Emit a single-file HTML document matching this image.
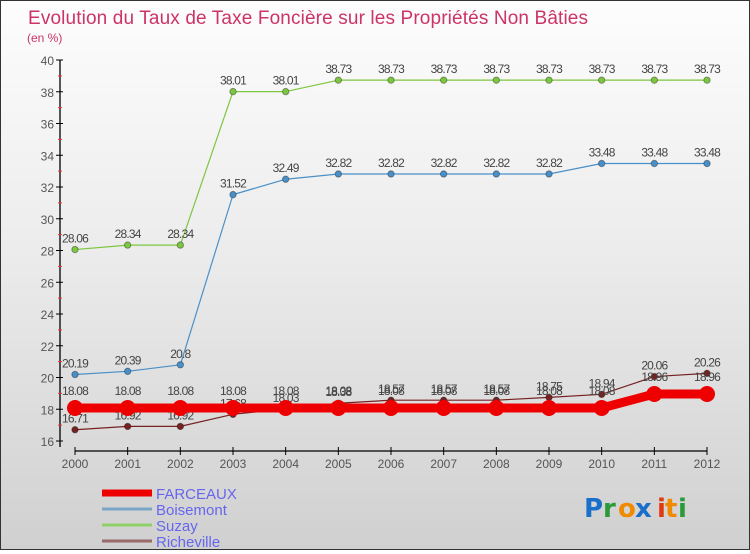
<!DOCTYPE html>
<html><head><meta charset="utf-8">
<style>
html,body{margin:0;padding:0;}
body{width:750px;height:550px;overflow:hidden;font-family:"Liberation Sans",sans-serif;}
#wrap{position:relative;width:748px;height:548px;border:1px solid #333;background:linear-gradient(#fdfdfd 0%,#ececec 45%,#d0d0d0 100%);}
</style></head>
<body>
<div id="wrap">
<svg id="chart" width="748" height="548" xmlns="http://www.w3.org/2000/svg">
<text x="27" y="23" font-size="19" fill="#cc3366" style="font-family:'Liberation Sans',sans-serif;font-weight:300" textLength="560">Evolution du Taux de Taxe Foncière sur les Propriétés Non Bâties</text>
<text x="26" y="41" font-size="12" fill="#cc3366">(en %)</text>
<g id="axes"></g>
<g id="series"></g>
<g id="legend"></g>
<g font-size="26" font-weight="bold" style="font-family:'DejaVu Sans',sans-serif">
<text x="583" y="516" fill="#1a6fc9">P</text><text x="602" y="516" fill="#2a9a3a">r</text><text x="617" y="516" fill="#f08a00">o</text><text x="634" y="516" fill="#1a6fc9">x</text><text x="656" y="516" fill="#e03a10">i</text><text x="664" y="516" fill="#f08a00">t</text><text x="677" y="516" fill="#2a9a3a">i</text>
</g>
</svg>
</div>
<script>
const years=["2000","2001","2002","2003","2004","2005","2006","2007","2008","2009","2010","2011","2012"];
const yTicks=[16,18,20,22,24,26,28,30,32,34,36,38,40];
const farceaux=[18.08,18.08,18.08,18.08,18.08,18.08,18.08,18.08,18.08,18.08,18.08,18.96,18.96];
const boisemont=[20.19,20.39,20.8,31.52,32.49,32.82,32.82,32.82,32.82,32.82,33.48,33.48,33.48];
const suzay=[28.06,28.34,28.34,38.01,38.01,38.73,38.73,38.73,38.73,38.73,38.73,38.73,38.73];
const richeville=[16.71,16.92,16.92,17.68,18.03,18.38,18.57,18.57,18.57,18.75,18.94,20.06,20.26];
const labels=["FARCEAUX","Boisemont","Suzay","Richeville"];

const NS="http://www.w3.org/2000/svg";
const X0=74,X1=706,YMIN=16,YMAX=40,PY0=440,PY1=59;
function xs(i){return X0+(X1-X0)*i/(years.length-1);}
function ys(v){return PY0-(v-YMIN)*(PY0-PY1)/(YMAX-YMIN);}
function mk(tag,attrs,parent){const e=document.createElementNS(NS,tag);for(const k in attrs)e.setAttribute(k,attrs[k]);parent.appendChild(e);return e;}
const axes=document.getElementById('axes'),ser=document.getElementById('series'),leg=document.getElementById('legend');

let yl=mk('line',{x1:59,y1:ys(40),x2:59,y2:ys(16)+6,stroke:'#000','stroke-width':1.3},axes);


let xl=mk('line',{x1:X0,y1:450,x2:X1,y2:450,stroke:'#000','stroke-width':1.3},axes);


yTicks.forEach(v=>{
  const y=ys(v);
  mk('line',{x1:55,y1:y,x2:62,y2:y,stroke:'#000'},axes);
  const t=mk('text',{x:53,y:y+5,'font-size':12,fill:'#555','text-anchor':'end'},axes);
  t.textContent=v;
  
  
  if(v<40){mk('line',{x1:57,y1:ys(v+1),x2:61,y2:ys(v+1),stroke:'#e33'},axes);}
});
years.forEach((yr,i)=>{
  const x=xs(i);
  mk('line',{x1:x,y1:446,x2:x,y2:454,stroke:'#000'},axes);
  const t=mk('text',{x:x,y:467,'font-size':12,fill:'#555','text-anchor':'middle'},axes);
  t.textContent=yr;
  
  
});

function series(vals,color,lw,r,name,fmt){
  const g=mk('g',{},ser);
  
  
  const pts=vals.map((v,i)=>xs(i)+','+ys(v)).join(' ');
  mk('polyline',{points:pts,fill:'none',stroke:color,'stroke-width':lw,'stroke-linejoin':'round'},g);
  vals.forEach((v,i)=>{
    const c=mk('circle',{cx:xs(i),cy:ys(v),r:r,fill:color,stroke:'rgba(0,0,0,0.35)','stroke-width':r>5?0:1},g);
    
    
    const t=mk('text',{x:xs(i),y:ys(v)-7-(r>5?6:0),'font-size':12,fill:'#444','text-anchor':'middle','letter-spacing':'-0.8'},g);
    t.textContent=v;
    
    
  });
}
series(suzay,'#7cc640',1.2,3.2,'suzay');
series(boisemont,'#4a90c8',1.2,3.2,'boisemont');
series(richeville,'#772222',1.2,3.2,'richeville');
series(farceaux,'#ee0000',9,8,'farceaux');

const lcol=['#ee0000','#7ba6c8','#8fd068','#9a6a6a'],lw=[7,3,3,3];
labels.forEach((l,i)=>{
  const y=492+i*16;
  const ln=mk('line',{x1:101,y1:y,x2:151,y2:y,stroke:lcol[i],'stroke-width':lw[i]},leg);
  
  
  const t=mk('text',{x:155,y:y+6,'font-size':15,fill:'#6666ee'},leg);
  t.textContent=l;
  
  
});
</script>
</body></html>
